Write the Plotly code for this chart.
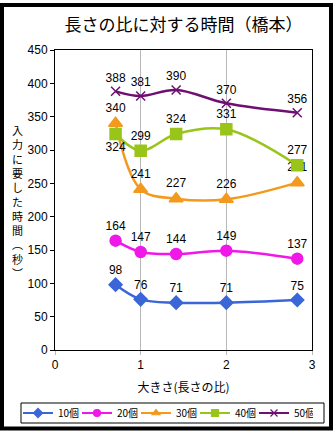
import plotly.graph_objects as go

# size ratio (length ratio) on the x axis
ratio = [0.707, 1.0, 1.414, 2.0, 2.828]

# input time in seconds for each number of items
t10 = [98, 76, 71, 71, 75]
t20 = [164, 147, 144, 149, 137]
t30 = [340, 241, 227, 226, 251]
t40 = [324, 299, 324, 331, 277]
t50 = [388, 381, 390, 370, 356]

names = ["10個", "20個", "30個", "40個", "50個"]
colors = ["#3A66D8", "#F018E8", "#F39A1E", "#99C51A", "#6E0F72"]
symbols = ["diamond", "circle", "triangle-up", "square", "x-thin-open"]
sizes = [10, 11, 12, 11, 9]

W, H = 335, 433
L, R, T, B = 55, 23, 50, 83

fig = go.Figure()
for name, ys, col, sym, sz in zip(names, [t10, t20, t30, t40, t50], colors, symbols, sizes):
    pos = ["top center"] * len(ys)
    if name == "40個":
        pos[0] = "bottom center"
    fig.add_trace(go.Scatter(
        x=ratio, y=ys, name=name, showlegend=False,
        mode="lines+markers+text",
        line=dict(color=col, width=2.5, shape="spline", smoothing=1.0),
        marker=dict(symbol=sym, size=sz, color=col,
                    line=dict(color=col, width=1.5)),
        text=[str(v) for v in ys], textposition=pos,
        textfont=dict(family="Liberation Sans, Arial", size=12, color="#000000"),
        cliponaxis=False,
    ))

# legend entries with smaller symbols
for name, col, sym in zip(names, colors, symbols):
    fig.add_trace(go.Scatter(
        x=[None], y=[None], name=name, mode="lines+markers",
        line=dict(color=col, width=2),
        marker=dict(symbol=sym, size=7, color=col, line=dict(color=col, width=1.2)),
    ))

def px(x):
    return (x - L) / (W - L - R)

def py(y):
    return (H - B - y) / (H - T - B)

# outer frame of the chart
fig.add_shape(type="rect", xref="paper", yref="paper",
              x0=px(2), x1=px(331), y0=py(5), y1=py(428.5),
              line=dict(color="#000000", width=4), layer="above")

# box around the legend row
fig.add_shape(type="rect", xref="paper", yref="paper",
              x0=px(21), x1=px(324), y0=py(403), y1=py(423),
              line=dict(color="#000000", width=1), layer="above")

# vertical y-axis title, one character per line
ytitle = "入<br>力<br>に<br>要<br>し<br>た<br>時<br>間<br>︵<br>秒<br>︶"
fig.add_annotation(text=ytitle, xref="paper", yref="paper",
                   x=px(17), y=py(202), showarrow=False,
                   xanchor="center", yanchor="middle",
                   font=dict(family="Noto Sans CJK JP", size=11, color="#000000"))

fig.update_layout(
    width=W, height=H,
    margin=dict(l=L, r=R, t=T, b=B, autoexpand=False),
    paper_bgcolor="#FFFFFF", plot_bgcolor="#FFFFFF",
    title=dict(text="長さの比に対する時間（橋本）", x=0.5, xref="paper",
               y=1 - 25 / H, yanchor="middle",
               font=dict(family="Noto Sans CJK JP", size=17, color="#000000")),
    font=dict(family="Liberation Sans, Arial", size=12, color="#000000"),
    showlegend=True,
    legend=dict(orientation="h", x=px(18), xanchor="left",
                y=py(413), yanchor="middle",
                borderwidth=0, bgcolor="rgba(0,0,0,0)",
                font=dict(family="Noto Sans CJK JP", size=10),
                itemwidth=30, entrywidth=14, entrywidthmode="pixels",
                tracegroupgap=0),
    xaxis=dict(range=[0, 3], tickvals=[0, 1, 2, 3], ticktext=["0", "1", "2", "3"],
               showgrid=True, gridcolor="#B8B8B8", gridwidth=1,
               showline=True, linecolor="#000000", linewidth=1, mirror=True,
               ticks="outside", ticklen=4, tickcolor="#B8B8B8",
               zeroline=False, tickfont=dict(size=12),
               title=dict(text="大きさ(長さの比)", standoff=12,
                          font=dict(family="Noto Sans CJK JP", size=12))),
    yaxis=dict(range=[0, 450], dtick=50, showgrid=False,
               showline=True, linecolor="#000000", linewidth=1, mirror=True,
               ticks="outside", ticklen=4, tickcolor="#000000",
               zeroline=False, tickfont=dict(size=12)),
)

fig.write_html("out.html")
